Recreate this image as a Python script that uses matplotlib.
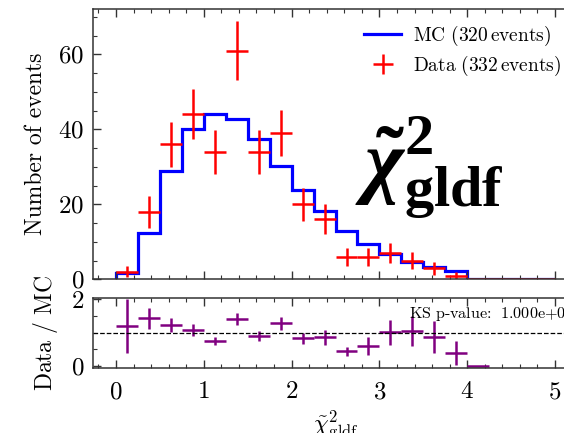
import numpy as np
import matplotlib
matplotlib.use("Agg")
import matplotlib.pyplot as plt
from matplotlib.ticker import MultipleLocator

plt.rcParams.update({
    "font.family": "serif",
    "font.serif": ["cmr10"],
    "mathtext.fontset": "custom",
    "mathtext.rm": "Liberation Serif:bold",
    "mathtext.bf": "Liberation Serif:bold",
    "mathtext.it": "Liberation Serif:bold:italic",
    "axes.formatter.use_mathtext": True,
    "axes.unicode_minus": False,
})

# Binning of the variable
bin_edges = np.linspace(0.0, 5.0, 21)

# Simulated (MC) counts per bin
mc_counts = [1.6, 12.3, 29.0, 40.0, 44.2, 42.8, 37.4, 30.3, 23.9, 18.2,
             13.0, 9.4, 6.8, 4.6, 3.2, 2.3, 0, 0, 0, 0]

# Observed counts per bin
data_counts = [2, 18, 36, 44, 34, 61, 34, 39, 20, 16,
               6, 6, 7, 5, 3, 1, 0, 0, 0, 0]

# Data / MC ratio and its uncertainty (first 17 bins)
ratio = [1.20, 1.43, 1.22, 1.08, 0.75, 1.41, 0.89, 1.28, 0.83, 0.86,
         0.44, 0.60, 1.01, 1.04, 0.88, 0.39, 0.0]
ratio_err = [0.82, 0.32, 0.21, 0.17, 0.12, 0.18, 0.15, 0.20, 0.17, 0.22,
             0.14, 0.26, 0.38, 0.45, 0.48, 0.36, 0.0]

mc_label = r"$\mathrm{MC\ (320\,events)}$"
data_label = r"$\mathrm{Data\ (332\,events)}$"
ks_text = r"KS$\ $p-value:$\ \ $1.000e+00"

centers = 0.5 * (bin_edges[:-1] + bin_edges[1:])
half_w = 0.5 * np.diff(bin_edges)
data_arr = np.array(data_counts, dtype=float)

fig = plt.figure(figsize=(5.64, 4.33), dpi=100)
ax = fig.add_axes([0.1644, 0.355, 0.861, 0.6235])
axr = fig.add_axes([0.1644, 0.149, 0.861, 0.1635], sharex=ax)

# Main panel
ax.stairs(mc_counts, bin_edges, color="blue", lw=2.3, label=mc_label, baseline=0)
ax.errorbar(centers, data_arr, xerr=half_w, yerr=np.sqrt(data_arr),
            fmt="none", ecolor="red", elinewidth=1.8, capsize=0,
            label=data_label)
ax.set_xlim(-0.265, 5.265)
ax.set_ylim(0, 72)
ax.set_ylabel("Number of events", fontsize=17, labelpad=8)
ax.yaxis.set_major_locator(MultipleLocator(20))
ax.yaxis.set_minor_locator(MultipleLocator(5))
ax.xaxis.set_major_locator(MultipleLocator(1))
ax.xaxis.set_minor_locator(MultipleLocator(0.2))
ax.tick_params(labelbottom=False)

leg = ax.legend(loc="upper right", bbox_to_anchor=(0.995, 1.0), frameon=False,
                fontsize=14, handlelength=1.9, handletextpad=0.6,
                borderaxespad=0.35, labelspacing=0.3)
for t in leg.get_texts():
    t.set_math_fontfamily("cm")

ax.text(0.54, 0.415, r"$\tilde{\chi}^{2}_{\mathrm{gldf}}$", transform=ax.transAxes,
        fontsize=60, ha="left", va="center")

# Ratio panel
nr = len(ratio)
axr.errorbar(centers[:nr], ratio, xerr=half_w[:nr], yerr=ratio_err,
             fmt="none", ecolor="purple", elinewidth=1.8, capsize=0)
axr.axhline(1.0, color="black", ls="--", lw=0.9)
axr.set_ylim(-0.08, 2.05)
axr.yaxis.set_major_locator(MultipleLocator(2))
axr.yaxis.set_minor_locator(MultipleLocator(0.5))
axr.set_ylabel(r"$\mathrm{Data\ /\ MC}$", fontsize=17, labelpad=8,
               math_fontfamily="cm")
axr.set_xlabel(r"$\tilde{\chi}^{2}_{\mathrm{gldf}}$", fontsize=17,
               math_fontfamily="cm", labelpad=4)
axr.text(0.651, 0.776, ks_text, transform=axr.transAxes, fontsize=11.6,
         ha="left", va="center", clip_on=False, math_fontfamily="cm")

for a in (ax, axr):
    a.tick_params(which="both", direction="in", top=True, right=True,
                  labelsize=18, color="#333333")
    a.tick_params(which="major", length=6, width=1.0, pad=6)
    a.tick_params(which="minor", length=3, width=0.8)
    for s in a.spines.values():
        s.set_linewidth(1.1)
        s.set_color("#333333")
axr.tick_params(axis="x", which="major", pad=9)

fig.align_ylabels([ax, axr])
fig.savefig("out.png", dpi=100)
